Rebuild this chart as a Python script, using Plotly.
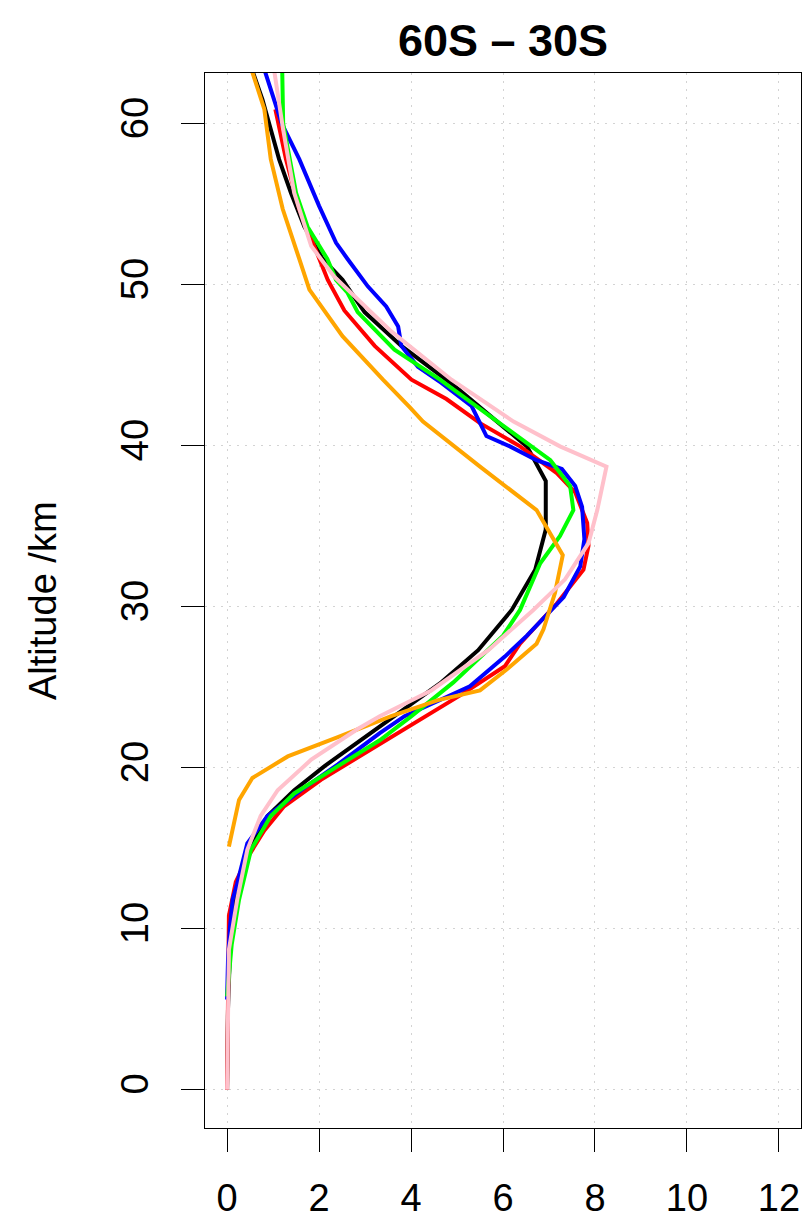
import plotly.graph_objects as go

# ---- data: altitude (km) and value for each profile ----
black_alt = [0, 5, 10, 12, 14, 15.7, 17.0, 18.6, 20.1, 22.6, 25.3, 27.3, 29.8, 32.3, 34.8, 37.8, 39.96, 41.0, 43.7, 46.2, 48.3, 50.3, 51.6, 53.6, 55.7, 57.8, 60, 61.5, 63.3]
black_val = [0.0, 0.02, 0.08, 0.18, 0.38, 0.63, 0.88, 1.46, 2.12, 3.35, 4.66, 5.46, 6.19, 6.7, 6.93, 6.93, 6.52, 6.08, 4.95, 3.79, 2.99, 2.51, 2.08, 1.68, 1.39, 1.13, 0.92, 0.77, 0.55]

red_alt = [0, 5, 8, 10.8, 12.9, 14.4, 16.1, 17.6, 19.25, 21.7, 22.6, 24.6, 26.3, 27.7, 30.2, 32.3, 33.8, 35.2, 37.1, 38.3, 39.96, 41.4, 42.9, 44.1, 46.2, 48.4, 50.3, 51.6, 54.7, 57.8, 60.9]
red_val = [0.0, 0.01, 0.02, 0.04, 0.19, 0.44, 0.81, 1.24, 2.04, 3.46, 4.01, 5.13, 6.04, 6.37, 7.17, 7.75, 7.86, 7.83, 7.57, 7.17, 6.37, 5.5, 4.77, 4.01, 3.21, 2.55, 2.19, 2.0, 1.57, 1.28, 1.05]

blue_alt = [5.6, 8, 10, 11.8, 12.8, 14.9, 15.3, 17.0, 18.6, 20.2, 22.15, 23.2, 25.05, 26.9, 28.2, 30.6, 32.5, 34.2, 36.2, 37.5, 38.55, 39.1, 39.96, 40.6, 42.45, 43.9, 44.9, 46.2, 47.4, 48.65, 49.9, 51.6, 52.6, 54.9, 57.8, 60, 63.2]
blue_val = [0.0, 0.02, 0.06, 0.12, 0.22, 0.41, 0.44, 0.88, 1.61, 2.41, 3.32, 3.86, 5.28, 6.04, 6.52, 7.32, 7.68, 7.77, 7.72, 7.57, 7.28, 6.73, 6.15, 5.64, 5.32, 4.66, 4.15, 3.79, 3.72, 3.46, 3.06, 2.62, 2.37, 2.0, 1.57, 1.19, 0.83]

green_alt = [5.8, 7, 9, 11.8, 14.9, 17.0, 18.4, 20.1, 21.7, 23.2, 25.3, 28.2, 29.8, 32.7, 34.4, 36.0, 37.5, 39.1, 41.4, 43.5, 44.1, 45.96, 48.3, 49.5, 50.3, 51.6, 53.6, 55.7, 60, 63.2]
green_val = [0.0, 0.03, 0.1, 0.26, 0.52, 0.95, 1.46, 2.41, 3.32, 4.01, 4.92, 6.0, 6.37, 6.81, 7.24, 7.53, 7.46, 7.03, 5.94, 4.95, 4.63, 3.64, 2.84, 2.62, 2.37, 2.18, 1.75, 1.5, 1.22, 1.2]

orange_alt = [15.1, 18.0, 19.36, 20.7, 21.9, 23.2, 24.2, 24.8, 26.1, 27.7, 28.6, 30.85, 33.2, 36.0, 38.7, 39.95, 41.5, 42.4, 44.1, 46.8, 48.9, 49.7, 51.6, 54.7, 57.8, 60.9, 63.2]
orange_val = [0.04, 0.26, 0.55, 1.32, 2.41, 3.57, 4.59, 5.5, 6.08, 6.73, 6.88, 7.13, 7.3, 6.73, 5.5, 4.95, 4.26, 3.97, 3.39, 2.51, 2.0, 1.79, 1.57, 1.21, 0.95, 0.81, 0.55]

pink_alt = [0, 3, 6, 8.7, 11.8, 14.9, 17.0, 18.6, 20.5, 22.4, 23.2, 24.8, 27.3, 29.8, 31.7, 33.95, 36.0, 38.7, 39.96, 41.5, 44.1, 47.1, 50.5, 52.4, 55.7, 59.8, 63.2]
pink_val = [0.0, 0.01, 0.02, 0.04, 0.22, 0.44, 0.73, 1.1, 1.83, 2.84, 3.32, 4.44, 5.68, 6.66, 7.35, 7.86, 8.05, 8.25, 7.24, 6.23, 4.88, 3.57, 2.33, 1.83, 1.46, 1.21, 1.03]

x_ticks = [0, 2, 4, 6, 8, 10, 12]
y_ticks = [0, 10, 20, 30, 40, 50, 60]
title_text = "60S \u2013 30S"
y_title = "Altitude /km"

series = [
    (black_val, black_alt, "black"),
    (red_val, red_alt, "#FF0000"),
    (blue_val, blue_alt, "#0000FF"),
    (green_val, green_alt, "#00FF00"),
    (orange_val, orange_alt, "#FFA500"),
    (pink_val, pink_alt, "#FFC0CB"),
]

fig = go.Figure()
for xv, yv, col in series:
    fig.add_trace(go.Scatter(x=xv, y=yv, mode="lines",
                             line=dict(color=col, width=4),
                             showlegend=False, hoverinfo="skip"))

font_family = "Liberation Sans, Arial, sans-serif"
axis_common = dict(
    showline=True, mirror=True, linecolor="black", linewidth=1.3,
    ticks="outside", ticklen=23, tickwidth=1.3, tickcolor="black",
    showgrid=True, gridcolor="#D3D3D3", gridwidth=1, griddash="2px,6px",
    zeroline=False, automargin=False,
    tickfont=dict(family=font_family, size=38, color="black"),
)

W, H = 803, 1224
fig.update_layout(
    width=W, height=H,
    margin=dict(l=205, r=2, t=73, b=96),
    plot_bgcolor="white", paper_bgcolor="white",
    xaxis=dict(range=[-0.48, 12.48], tickvals=x_ticks, ticklabelstandoff=13, **axis_common),
    yaxis=dict(range=[-2.38, 63.15], tickvals=y_ticks, tickangle=-90, ticklabelstandoff=18, **axis_common),
    title=dict(text="<b>" + title_text + "</b>", x=0.5, xref="paper", xanchor="center",
               y=1 - 40 / H, yref="container", yanchor="middle",
               font=dict(family=font_family, size=45, color="black")),
    annotations=[dict(text=y_title, x=-0.2727, y=0.5, xref="paper", yref="paper",
                      xanchor="center", yanchor="middle", textangle=-90, showarrow=False,
                      font=dict(family=font_family, size=38, color="black"))],
)

fig.write_html(
    "out.html",
    config={"displayModeBar": False},
    post_script="document.body.style.margin='0';document.body.style.overflow='hidden';",
)
